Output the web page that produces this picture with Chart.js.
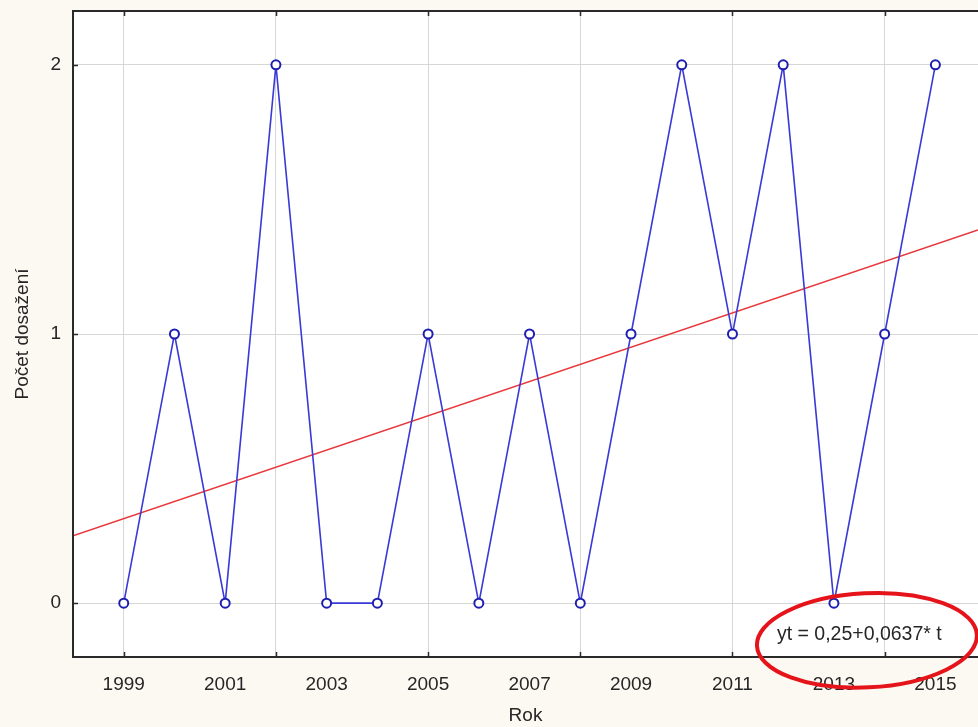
<!DOCTYPE html>
<html>
<head>
<meta charset="utf-8">
<script src="https://cdn.jsdelivr.net/npm/chart.js@4/dist/chart.umd.min.js"></script>
<style>
  html, body { margin: 0; padding: 0; background: #fcf9f2; overflow: hidden; }
  #wrap { position: relative; width: 978px; height: 727px; }
</style>
</head>
<body>
<div id="wrap"><canvas id="c" width="978" height="727"></canvas></div>
<script>
// Years and counts of achievements per year
const years = [1999, 2000, 2001, 2002, 2003, 2004, 2005, 2006, 2007, 2008, 2009, 2010, 2011, 2012, 2013, 2014, 2015];
const counts = [0, 1, 0, 2, 0, 0, 1, 0, 1, 0, 1, 2, 1, 2, 0, 1, 2];

// Linear trend yt = a + b*t, with t counted in years from 1998
const trendIntercept = 0.25;
const trendSlope = 0.0637;
const trendOrigin = 1998;
const trendLabel = 'yt = 0,25+0,0637* t';

// Axis labels
const xTitle = 'Rok';
const yTitle = 'Počet dosažení';

const X_MIN = 1998, X_MAX = 2015.84;
const Y_MIN = -0.2, Y_MAX = 2.2;

const trendPoints = [X_MIN, X_MAX].map(x => ({ x, y: trendIntercept + trendSlope * (x - trendOrigin) }));
const seriesPoints = years.map((y, i) => ({ x: y, y: counts[i] }));

const FONT = '"Liberation Sans", Arial, sans-serif';
const TEXT = '#262626';
const GRID = '#d6d6d6';
const FRAME = '#2a2a2a';

const isGridYear = v => Number.isInteger(v) && (v - 1999) % 3 === 0;
const isLabelYear = v => Number.isInteger(v) && v % 2 === 1;

// scales take no extra room for overhanging tick labels
const noMargins = s => { s.paddingTop = 0; s.paddingBottom = 0; s.paddingLeft = 0; s.paddingRight = 0; };

// Background of the plot area, frame on three sides and short inward ticks
const framePlugin = {
  id: 'frame',
  beforeDraw(chart) {
    const { ctx, chartArea: a } = chart;
    ctx.save();
    ctx.fillStyle = '#ffffff';
    ctx.fillRect(a.left, a.top, a.right - a.left + 4, a.bottom - a.top);
    ctx.restore();
  },
  afterDatasetsDraw(chart) {
    const { ctx, chartArea: a, scales: { x, y } } = chart;
    ctx.save();
    ctx.strokeStyle = FRAME;
    ctx.lineWidth = 2;
    ctx.beginPath();
    ctx.moveTo(a.right + 4, a.top);
    ctx.lineTo(a.left, a.top);
    ctx.lineTo(a.left, a.bottom);
    ctx.lineTo(a.right + 4, a.bottom);
    ctx.stroke();
    ctx.lineWidth = 1.5;
    ctx.beginPath();
    x.ticks.forEach(t => {
      if (!isGridYear(t.value)) return;
      const px = Math.round(x.getPixelForValue(t.value)) + 0.5;
      ctx.moveTo(px, a.top); ctx.lineTo(px, a.top + 5);
      ctx.moveTo(px, a.bottom); ctx.lineTo(px, a.bottom - 5);
    });
    y.ticks.forEach(t => {
      if (!Number.isInteger(t.value)) return;
      const py = Math.round(y.getPixelForValue(t.value)) + 0.5;
      ctx.moveTo(a.left, py); ctx.lineTo(a.left + 5, py);
    });
    ctx.stroke();
    ctx.restore();
  },
  afterDraw(chart) {
    const { ctx, scales: { x, y } } = chart;
    ctx.save();
    // equation of the trend
    ctx.fillStyle = TEXT;
    ctx.font = '19.5px ' + FONT;
    ctx.textAlign = 'center';
    ctx.textBaseline = 'middle';
    ctx.fillText(trendLabel, x.getPixelForValue(2013.5), y.getPixelForValue(-0.118));
    // red highlight ring round the equation
    const cx = x.getPixelForValue(2013.65);
    const cy = y.getPixelForValue(-0.138);
    const rx = x.getPixelForValue(2013.65 + 2.17) - cx;
    const ry = y.getPixelForValue(-0.138) - y.getPixelForValue(-0.138 + 0.175);
    ctx.strokeStyle = '#e5141b';
    ctx.lineWidth = 4;
    ctx.beginPath();
    ctx.ellipse(cx, cy, rx, ry, -0.05, 0, Math.PI * 2);
    ctx.stroke();
    ctx.restore();
  }
};

new Chart(document.getElementById('c'), {
  type: 'scatter',
  data: {
    datasets: [
      {
        data: trendPoints,
        showLine: true,
        borderColor: '#e8373b',
        borderWidth: 1.5,
        pointRadius: 0,
        fill: false,
        order: 2
      },
      {
        data: seriesPoints,
        showLine: true,
        borderColor: '#3a3ad6',
        borderWidth: 1.6,
        pointRadius: 4.5,
        pointBorderWidth: 2,
        pointBorderColor: '#1e1eb0',
        pointBackgroundColor: '#ffffff',
        fill: false,
        order: 1
      }
    ]
  },
  options: {
    responsive: false,
    animation: false,
    events: [],
    layout: { autoPadding: false, padding: { top: 11, right: 0, left: 0, bottom: 0 } },
    plugins: { legend: { display: false }, tooltip: { enabled: false } },
    scales: {
      x: {
        type: 'linear',
        min: X_MIN,
        max: X_MAX,
        afterFit: s => { s.height = 70; noMargins(s); },
        border: { display: false },
        grid: {
          drawTicks: false,
          lineWidth: 1,
          color: c => (c.tick && isGridYear(c.tick.value)) ? GRID : 'rgba(0,0,0,0)'
        },
        ticks: {
          stepSize: 1,
          includeBounds: false,
          autoSkip: false,
          maxRotation: 0,
          padding: 16,
          color: TEXT,
          font: { family: FONT, size: 19 },
          callback: v => isLabelYear(v) ? String(v) : ''
        },
        title: {
          display: true,
          text: xTitle,
          color: TEXT,
          font: { family: FONT, size: 19 },
          padding: { top: 0, bottom: 0 }
        }
      },
      y: {
        type: 'linear',
        min: Y_MIN,
        max: Y_MAX,
        afterFit: s => { s.width = 73; noMargins(s); },
        border: { display: false },
        grid: {
          drawTicks: false,
          lineWidth: 1,
          color: c => (c.tick && Number.isInteger(c.tick.value)) ? GRID : 'rgba(0,0,0,0)'
        },
        ticks: {
          stepSize: 1,
          includeBounds: false,
          padding: 12,
          color: TEXT,
          font: { family: FONT, size: 19 },
          callback: v => Number.isInteger(v) ? String(v) : ''
        },
        title: {
          display: true,
          text: yTitle,
          color: TEXT,
          font: { family: FONT, size: 19 },
          padding: { top: 11, bottom: 0 }
        }
      }
    }
  },
  plugins: [framePlugin]
});
</script>
</body>
</html>
